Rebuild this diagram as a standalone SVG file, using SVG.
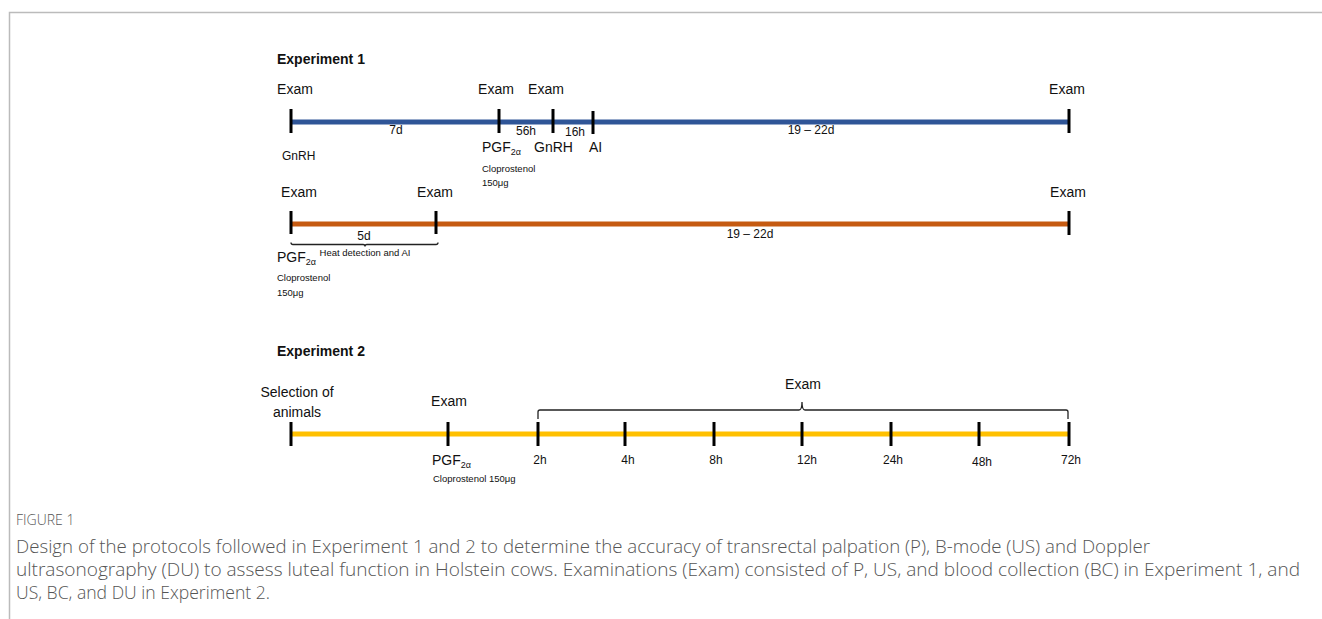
<svg xmlns="http://www.w3.org/2000/svg" width="1322" height="619" viewBox="0 0 1322 619">
<style>
text{font-family:"Liberation Sans","Open Sans",sans-serif;fill:#111}
.t{font-size:14px}
.s{font-size:9.5px}
.m{font-size:12px}
.h{font-size:14px;font-weight:bold}
.tick{stroke:#000;stroke-width:3}
.br{fill:none;stroke:#222;stroke-width:1.3}
.cap{font-family:"Open Sans","Lato",sans-serif;fill:#555;font-weight:300}
</style>
<rect width="1322" height="619" fill="#fff"/>
<path d="M9.5 619 V12.5 H1322" fill="none" stroke="#bbb" stroke-width="1.5"/>

<g id="exp1">
<text class="h" x="277" y="64">Experiment 1</text>
<g id="line1">
<line x1="291" y1="122" x2="1069" y2="122" stroke="#2f5597" stroke-width="5"/>
<line class="tick" x1="291" y1="109" x2="291" y2="133"/>
<line class="tick" x1="499" y1="109" x2="499" y2="133"/>
<line class="tick" x1="553" y1="109" x2="553" y2="133"/>
<line class="tick" x1="593" y1="111" x2="593" y2="134"/>
<line class="tick" x1="1069" y1="109" x2="1069" y2="133"/>
<text class="t" x="295" y="94" text-anchor="middle">Exam</text>
<text class="t" x="496" y="94" text-anchor="middle">Exam</text>
<text class="t" x="546" y="94" text-anchor="middle">Exam</text>
<text class="t" x="1067" y="94" text-anchor="middle">Exam</text>
<text class="m" x="396" y="134" text-anchor="middle">7d</text>
<text class="m" x="526" y="135" text-anchor="middle">56h</text>
<text class="m" x="575" y="136" text-anchor="middle">16h</text>
<text class="m" x="811" y="134" text-anchor="middle">19 – 22d</text>
<text class="m" x="282" y="160">GnRH</text>
<text class="t" x="482" y="152">PGF<tspan font-size="9" dy="3">2α</tspan></text>
<text class="t" x="534" y="152">GnRH</text>
<text class="t" x="589" y="152">AI</text>
<text class="s" x="482" y="172">Cloprostenol</text>
<text class="s" x="482" y="186">150μg</text>
</g>
<g id="line2">
<line x1="291" y1="224" x2="1069" y2="224" stroke="#c55a11" stroke-width="5"/>
<line class="tick" x1="291" y1="211" x2="291" y2="234"/>
<line class="tick" x1="436" y1="211" x2="436" y2="234"/>
<line class="tick" x1="1069" y1="211" x2="1069" y2="235"/>
<text class="t" x="299" y="197" text-anchor="middle">Exam</text>
<text class="t" x="435" y="197" text-anchor="middle">Exam</text>
<text class="t" x="1068" y="197" text-anchor="middle">Exam</text>
<text class="m" x="364" y="240" text-anchor="middle">5d</text>
<path class="br" d="M291 242.5 Q291 244.5 293 244.5 H363 Q365 244.5 365 246.5 Q365 244.5 367 244.5 H436 Q438 244.5 438 242.5"/>
<text class="s" x="365" y="256" text-anchor="middle">Heat detection and AI</text>
<text class="m" x="750" y="238" text-anchor="middle">19 – 22d</text>
<text class="t" x="277" y="262">PGF<tspan font-size="9" dy="3">2α</tspan></text>
<text class="s" x="277" y="281">Cloprostenol</text>
<text class="s" x="277" y="296">150μg</text>
</g>
</g>

<g id="exp2">
<text class="h" x="277" y="356">Experiment 2</text>
<line x1="291" y1="434" x2="1069" y2="434" stroke="#ffc000" stroke-width="5"/>
<line class="tick" x1="291" y1="422" x2="291" y2="446"/>
<line class="tick" x1="448" y1="422" x2="448" y2="446"/>
<line class="tick" x1="538" y1="422" x2="538" y2="446"/>
<line class="tick" x1="625" y1="422" x2="625" y2="446"/>
<line class="tick" x1="714" y1="422" x2="714" y2="446"/>
<line class="tick" x1="802" y1="422" x2="802" y2="446"/>
<line class="tick" x1="891" y1="422" x2="891" y2="446"/>
<line class="tick" x1="979" y1="422" x2="979" y2="446"/>
<line class="tick" x1="1069" y1="422" x2="1069" y2="446"/>
<text class="t" x="297" y="397" text-anchor="middle">Selection of</text>
<text class="t" x="297" y="417" text-anchor="middle">animals</text>
<text class="t" x="449" y="406" text-anchor="middle">Exam</text>
<text class="t" x="803" y="389" text-anchor="middle">Exam</text>
<path class="br" d="M538 419 V412 Q538 410 540 410 H799 Q802 410 802 402 Q802 410 805 410 H1066 Q1068 410 1068 412 V419"/>
<text class="t" x="432" y="465">PGF<tspan font-size="9" dy="3">2α</tspan></text>
<text class="s" x="433" y="482">Cloprostenol 150μg</text>
<text class="m" x="540" y="464" text-anchor="middle">2h</text>
<text class="m" x="628" y="464" text-anchor="middle">4h</text>
<text class="m" x="716" y="464" text-anchor="middle">8h</text>
<text class="m" x="807" y="464" text-anchor="middle">12h</text>
<text class="m" x="893" y="464" text-anchor="middle">24h</text>
<text class="m" x="982" y="466" text-anchor="middle">48h</text>
<text class="m" x="1071" y="464" text-anchor="middle">72h</text>
</g>

<g id="caption">
<text class="cap" x="16" y="525" font-size="14">FIGURE 1</text>
<text class="cap" x="16" y="553" font-size="18" textLength="1134" lengthAdjust="spacingAndGlyphs">Design of the protocols followed in Experiment 1 and 2 to determine the accuracy of transrectal palpation (P), B-mode (US) and Doppler</text>
<text class="cap" x="16" y="576" font-size="18" textLength="1284" lengthAdjust="spacingAndGlyphs">ultrasonography (DU) to assess luteal function in Holstein cows. Examinations (Exam) consisted of P, US, and blood collection (BC) in Experiment 1, and</text>
<text class="cap" x="16" y="599" font-size="18" textLength="254" lengthAdjust="spacingAndGlyphs">US, BC, and DU in Experiment 2.</text>
</g>
</svg>
